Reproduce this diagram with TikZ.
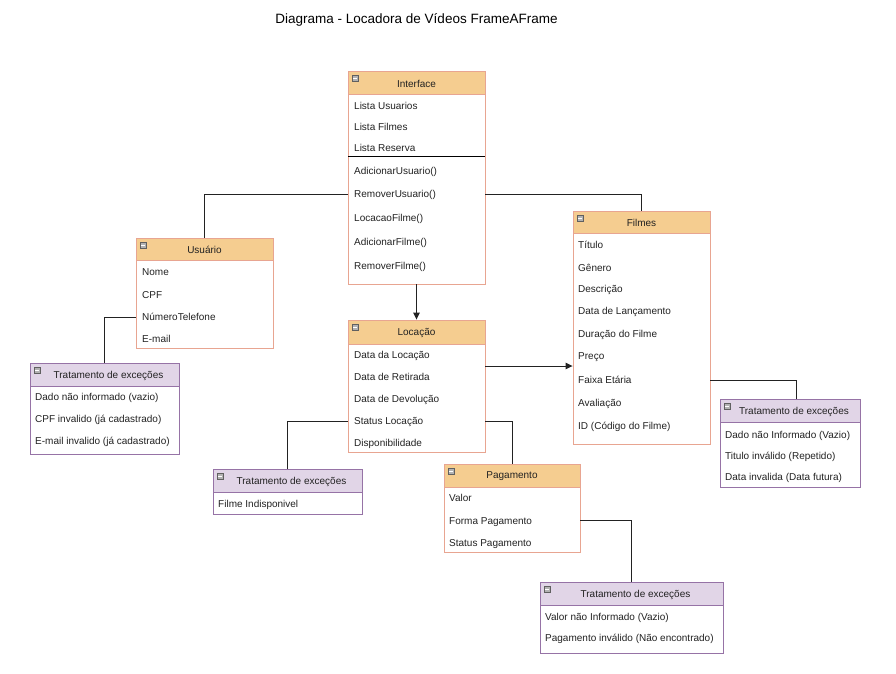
\documentclass[tikz,border=0pt]{standalone}
\usepackage{fontspec}
\setmainfont{Liberation Sans}
\usetikzlibrary{arrows.meta}
\definecolor{hdro}{HTML}{F5CD90}
\definecolor{brdo}{HTML}{E8A591}
\definecolor{hdrp}{HTML}{E1D5E7}
\definecolor{brdp}{HTML}{9673A6}
\definecolor{txt}{HTML}{222222}
\definecolor{lnk}{HTML}{222222}
\tikzset{
  frameo/.style={draw=brdo, line width=0.9pt, rectangle, inner sep=0pt},
  framep/.style={draw=brdp, line width=0.9pt, rectangle, inner sep=0pt},
  ttl/.style={font=\fontsize{10}{12}\selectfont, text=txt, inner sep=0pt, yshift=-1pt},
  rowtxt/.style={font=\fontsize{10}{12}\selectfont, text=txt, anchor=west, inner sep=0pt, text height=8.5pt, text depth=1.5pt},
  iconbox/.style={draw=gray!75!black, fill=gray!60, minimum size=6pt, inner sep=0pt, line width=0.5pt},
  link/.style={draw=lnk, line width=0.9pt},
  arr/.style={link, -{Triangle[length=7pt,width=6.5pt]}},
}
% #1 name, #2 kind (o/p), #3 x1, #4 y1, #5 x2, #6 y2, #7 header bottom, #8 title
\newcommand{\mkbox}[8]{%
  \fill[white] (#3,#4) rectangle (#5,#6);
  \fill[hdr#2] (#3,#4) rectangle (#5,#7);
  \draw[brd#2, line width=0.9pt] (#3,#7) -- (#5,#7);
  \node[frame#2, minimum width={#5-#3}, minimum height={#6-#4}] (#1) at ({(#3+#5)/2},{(#4+#6)/2}) {};
  \node[ttl] (#1-t) at ({(#3+#5)/2},{(#4+#7)/2}) {#8};
  \node[iconbox] (#1-i) at ({#3+7},{#4+7}) {};
  \draw[white, line width=1pt] ([xshift=1.3pt]#1-i.west) -- ([xshift=-1.3pt]#1-i.east);
}
\newcommand{\rw}[4]{\node[rowtxt] (#1) at (#2,#3) {#4};}
\begin{document}
\begin{tikzpicture}[x=1pt,y=-1pt]
\useasboundingbox (0,0) rectangle (896,673);
\fill[white] (0,0) rectangle (896,673);

\node[font=\fontsize{13.5}{16}\selectfont, text=black, inner sep=0pt] (title) at (416.5,19.5) {Diagrama - Locadora de Vídeos FrameAFrame};

% Interface
\mkbox{intf}{o}{348}{71}{485}{284}{94}{Interface}
\rw{int-a1}{354}{106}{Lista Usuarios}
\rw{int-a2}{354}{126.5}{Lista Filmes}
\rw{int-a3}{354}{147.5}{Lista Reserva}
\draw[black, line width=1pt] (348,156.5) -- (485,156.5);
\rw{int-m1}{354}{171}{AdicionarUsuario()}
\rw{int-m2}{354}{194}{RemoverUsuario()}
\rw{int-m3}{354}{218}{LocacaoFilme()}
\rw{int-m4}{354}{242}{AdicionarFilme()}
\rw{int-m5}{354}{266}{RemoverFilme()}

% Usuario
\mkbox{usu}{o}{136}{238}{273}{348}{260}{Usuário}
\rw{usu-r1}{142}{272}{Nome}
\rw{usu-r2}{142}{294.5}{CPF}
\rw{usu-r3}{142}{317}{NúmeroTelefone}
\rw{usu-r4}{142}{339}{E-mail}

% Excecoes usuario
\mkbox{ex1}{p}{30}{363}{179}{454}{386}{\hspace{8pt}Tratamento de exceções}
\rw{ex1-r1}{35}{397}{Dado não informado (vazio)}
\rw{ex1-r2}{35}{419}{CPF invalido (já cadastrado)}
\rw{ex1-r3}{35}{441}{E-mail invalido (já cadastrado)}

% Locacao
\mkbox{loc}{o}{348}{320}{485}{452}{344}{Locação}
\rw{loc-r1}{354}{355}{Data da Locação}
\rw{loc-r2}{354}{377}{Data de Retirada}
\rw{loc-r3}{354}{398.5}{Data de Devolução}
\rw{loc-r4}{354}{421}{Status Locação}
\rw{loc-r5}{354}{442.5}{Disponibilidade}

% Filmes
\mkbox{fil}{o}{573}{211}{710}{444}{233}{Filmes}
\rw{fil-r1}{578}{245}{Título}
\rw{fil-r2}{578}{267.5}{Gênero}
\rw{fil-r3}{578}{289}{Descrição}
\rw{fil-r4}{578}{311}{Data de Lançamento}
\rw{fil-r5}{578}{333.5}{Duração do Filme}
\rw{fil-r6}{578}{355.5}{Preço}
\rw{fil-r7}{578}{380}{Faixa Etária}
\rw{fil-r8}{578}{402.5}{Avaliação}
\rw{fil-r9}{578}{426}{ID (Código do Filme)}

% Excecoes filmes
\mkbox{ex3}{p}{720}{399}{860}{487}{422}{\hspace{8pt}Tratamento de exceções}
\rw{ex3-r1}{725}{434.5}{Dado não Informado (Vazio)}
\rw{ex3-r2}{725}{455.5}{Titulo inválido (Repetido)}
\rw{ex3-r3}{725}{477}{Data invalida (Data futura)}

% Excecoes locacao
\mkbox{ex2}{p}{213}{469}{362}{514}{492}{\hspace{8pt}Tratamento de exceções}
\rw{ex2-r1}{218}{503.5}{Filme Indisponivel}

% Pagamento
\mkbox{pag}{o}{444}{464}{580}{552}{487}{Pagamento}
\rw{pag-r1}{449}{497.5}{Valor}
\rw{pag-r2}{449}{520.5}{Forma Pagamento}
\rw{pag-r3}{449}{543}{Status Pagamento}

% Excecoes pagamento
\mkbox{ex4}{p}{540}{582}{723}{653}{605}{\hspace{8pt}Tratamento de exceções}
\rw{ex4-r1}{545}{616.5}{Valor não Informado (Vazio)}
\rw{ex4-r2}{545}{638}{Pagamento inválido (Não encontrado)}

% Connectors
\coordinate (lf) at (500,366);
\draw[link] (intf.west |- int-m2) -| (usu.north);
\draw[link] (intf.east |- int-m2) -| (fil.north);
\draw[arr] (intf.south) -- (loc.north);
\draw[link] (usu.west |- usu-r3) -| (ex1.north);
\draw[arr] (loc.east |- lf) -- (fil.west |- lf);
\draw[link] (loc.west |- loc-r4) -| (ex2.north);
\draw[link] (loc.east |- loc-r4) -| (pag.north);
\draw[link] (pag.east |- pag-r2) -| (ex4.north);
\draw[link] (fil.east |- fil-r7) -| ([xshift=6pt]ex3.north);
\end{tikzpicture}
\end{document}
